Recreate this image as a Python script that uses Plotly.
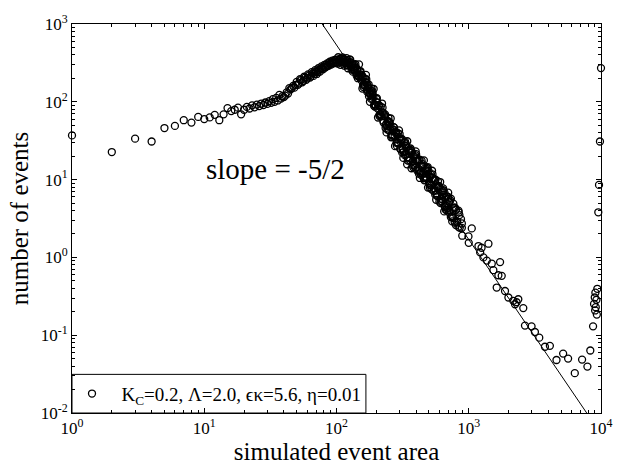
import plotly.graph_objects as go

# ---- data (simulated event area vs number of events) ----
area_low = [1, 2, 3, 4, 5, 6, 7, 8, 9, 10, 11, 12, 13, 14, 15, 16, 17, 18, 19, 20]
count_low = [37, 22.6, 33.6, 30.9, 46, 49, 58, 54, 64, 60, 63, 68, 58, 69, 83, 76, 79, 84, 69, 79]

area_rise = [21, 22, 23, 24, 25, 26, 27, 28, 29, 30, 31, 32, 33, 34, 35, 36, 37, 38, 39,
             40, 41, 42, 43, 44, 45, 46, 47, 48, 49, 50, 52, 54, 56, 58, 60, 62, 64, 66, 68, 70,
             72, 74, 76, 78, 80, 82, 84, 86, 88, 90, 92, 94, 96, 98]
count_rise = [86, 82, 90, 85, 92, 88, 95, 91, 98, 94, 102, 97, 108, 100, 112, 104, 123, 110, 118,
              115, 120, 132, 128, 150, 145, 150, 160, 152, 165, 180, 172, 190, 185, 205, 200, 218, 212, 232, 228, 245,
              240, 258, 264, 270, 282, 276, 298, 292, 315, 305, 320, 315, 330, 322]

area_rise2 = [51, 53, 55, 57, 59, 61, 63, 65, 67, 69, 71, 73, 75, 77, 79, 81, 83, 85, 87, 89,
              91, 93, 95, 97, 99]
count_rise2 = [165, 195, 178, 210, 192, 225, 205, 240, 215, 255, 228, 270, 245, 285, 262, 298,
               280, 312, 290, 328, 300, 338, 312, 345, 318]

area_peak = [100, 102, 104, 106, 108, 110, 112, 114, 116, 118, 120, 123, 126, 129, 132, 135, 138,
             141, 144, 147, 150, 154, 158, 162, 166, 170, 174, 178, 182, 186, 190, 195, 200, 205,
             210, 215, 220, 226, 232, 238, 244, 250, 256, 262, 268, 275, 282, 289, 296, 303, 310,
             318, 326, 334, 342, 350, 359, 368, 377, 386, 395, 405, 415, 425, 435, 445, 456, 467,
             478, 489, 500, 512, 524, 536, 548, 561, 574, 587, 600, 614, 628, 642, 656, 671, 686,
             701, 717, 733, 749, 766, 783, 800, 818, 836, 855, 874, 893]
count_peak = [347, 310, 342, 320, 360, 330, 351, 318, 348, 319, 330, 294, 324, 282, 303, 267, 274,
              236, 258, 218, 223, 190, 210, 171, 179, 143, 153, 135, 140, 110, 115, 92, 99, 82,
              90, 70, 73, 57, 65, 52, 57, 43, 48, 37, 44, 36, 41, 30, 33, 25, 32,
              25, 30, 21, 15.7, 23.6, 17.8, 23.3, 17.3, 19.8, 14.3, 17.2, 13.9, 18, 12.4, 14.6, 10.5, 13.9,
              10.8, 14.5, 9.2, 10.9, 7.5, 10.5, 7.7, 10.0, 6.4, 8.0, 5.2, 7.4, 5.6, 7.3, 4.6, 5.9, 4.0,
              5.7, 4.0, 5.7, 3.3, 4.3, 2.8, 4.1, 2.9, 4.0, 2.4, 3.1, 1.9]

area_band = [101, 105, 109, 113, 117, 121, 125, 131, 137, 143, 149, 156, 164, 172, 180, 188, 198,
             208, 218, 229, 241, 253, 265, 279, 293, 307, 322, 338, 355, 372, 390, 410, 430, 451,
             473, 496, 520, 545, 571, 598, 626, 655, 685, 716, 748, 781, 815, 850, 887]
count_band = [324, 354, 325, 343, 315, 344, 300, 294, 253, 262, 207, 217, 161, 162, 127, 125, 89,
              90, 65, 69, 49, 53, 37, 40, 29.5, 33, 22.5, 26, 19, 22.3, 15.1, 17.5, 12.1, 14.9,
              10.5, 12.9, 8.4, 9.9, 6.4, 8.0, 5.3, 6.8, 4.3, 5.2, 3.4, 4.4, 2.8, 3.5, 2.4]

area_wide = [103, 107, 111, 115, 119, 122, 127, 133, 139, 145, 152, 160, 168, 176, 184, 192, 202,
             212, 223, 235, 247, 259, 272, 286, 300, 314, 330, 346, 363, 381, 400, 420, 440, 462,
             484, 508, 532, 558, 585, 612, 640, 670, 700, 732, 765, 800, 840]
count_wide = [374, 299, 371, 291, 364, 270, 349, 244, 304, 201, 247, 155, 195, 118, 148, 89, 111,
              65, 84, 46, 62, 35, 47, 27.3, 38.5, 22.2, 30.8, 17.5, 25.1, 14.4, 21.2, 11.9, 17.5, 9.8,
              14.1, 7.9, 11.7, 6.4, 9.5, 5.0, 7.7, 4.1, 6.0, 3.3, 4.9, 2.6, 3.8]

area_core = [124, 128, 134, 140, 146, 153, 161, 169, 177, 185, 194, 203, 213, 224, 236, 248, 260,
             273, 287, 301, 316, 332, 348, 365, 383, 402, 422, 443, 465, 487, 510, 534, 560, 587,
             615, 645, 676, 708]
count_core = [313, 321, 258, 277, 214, 224, 166, 175, 128, 132, 93.5, 98, 69, 73, 50, 55, 38.4,
              43, 30.3, 34, 24, 27.2, 19.4, 22.2, 16, 18.3, 13.2, 15.1, 10.9, 12.4, 8.9, 10.1, 7.2, 8.0,
              5.7, 6.4, 4.6, 5.2]

area_fill = [119, 126, 130, 136, 142, 151, 159, 165, 171, 175, 183, 187, 196, 200, 211, 216, 227,
             233, 243, 251, 263, 270, 284, 291, 305, 312, 328, 336, 353, 361, 378, 392, 408, 418,
             438, 448, 470, 482, 505, 518, 542, 555, 580, 595, 620, 635, 662, 680, 710, 725, 760, 790]
count_fill = [296, 347, 260, 301, 217, 240, 165, 196, 134, 167, 109, 136, 86.5, 109, 67.3, 86.7, 54,
              69, 43.9, 55, 35.6, 47.2, 29.7, 39.5, 24.5, 33.4, 20.7, 28.4, 17.5, 24.2, 15.3, 20.6, 13.1, 18.1,
              11.4, 15.8, 9.9, 13.6, 8.6, 11.6, 7.2, 9.9, 6.1, 8.3, 5.2, 7.1, 4.4, 6.1, 3.8, 5.4, 3.2, 4.3]

area_outer = [148, 157, 167, 179, 191, 206, 221, 239, 257, 277, 297, 320, 343, 369, 397, 427, 458,
              492, 528, 567, 608, 652, 699, 750]
count_outer = [303, 148, 222, 100, 146, 62.8, 95, 40.4, 61, 26.9, 43, 19, 31.1, 14, 23, 10.5, 17.7,
               7.9, 13, 5.5, 9.3, 3.9, 6.8, 2.9]

area_tail = [837, 887, 995, 1054, 1000, 1184, 1250, 1409, 1220, 1291, 1370, 1493, 1725, 1535,
             1675, 1775, 1627, 1880, 1995, 2173, 2300, 2370, 2240, 2584, 2662, 2985, 3165, 3413,
             3767, 4106, 4607, 5173, 5640, 6336, 7194, 7893, 8300]
count_tail = [2.48, 2.73, 1.86, 2.36, 1.54, 1.40, 1.33, 1.50, 1.16, 1.0, 0.91, 0.83, 0.87, 0.685,
              0.59, 0.58, 0.41, 0.37, 0.305, 0.277, 0.265, 0.29, 0.25, 0.223, 0.133, 0.13, 0.11, 0.093,
              0.071, 0.073, 0.048, 0.058, 0.05, 0.0325, 0.0486, 0.0395, 0.0636]

area_edge = [10000, 9820, 9660, 9540, 9380, 9070, 8970, 9240, 8860, 9130, 9030, 9300, 8710]
count_edge = [271, 30.9, 8.55, 3.8, 0.395, 0.352, 0.305, 0.285, 0.252, 0.229, 0.208, 0.184, 0.13]

# reference power-law line, slope -5/2
slope = -2.5
log_intercept = 7.73
line_x = [60, 10000]

x_tickvals = [1, 10, 100, 1000, 10000]
x_ticktext = ["10<sup>0</sup>", "10<sup>1</sup>", "10<sup>2</sup>", "10<sup>3</sup>", "10<sup>4</sup>"]
y_tickvals = [0.01, 0.1, 1, 10, 100, 1000]
y_ticktext = ["10<sup>-2</sup>", "10<sup>-1</sup>", "10<sup>0</sup>", "10<sup>1</sup>",
              "10<sup>2</sup>", "10<sup>3</sup>"]

area = (area_low + area_rise + area_rise2 + area_peak + area_band + area_wide + area_core
        + area_fill + area_outer + area_tail + area_edge)
count = (count_low + count_rise + count_rise2 + count_peak + count_band + count_wide + count_core
         + count_fill + count_outer + count_tail + count_edge)

SERIF = "Liberation Serif"


def minor_vals(lo, hi):
    vals = []
    for e in range(lo, hi):
        for m in range(2, 10):
            vals.append(m * 10 ** e)
    return vals


fig = go.Figure()
fig.add_trace(go.Scatter(
    x=line_x, y=[10 ** log_intercept * v ** slope for v in line_x],
    mode="lines", line=dict(color="black", width=1), showlegend=False, hoverinfo="skip"))
fig.add_trace(go.Scatter(
    x=area, y=count, mode="markers", cliponaxis=False,
    marker=dict(symbol="circle-open", size=7, color="black", line=dict(width=1.3, color="black")),
    name="\u00a0\u00a0K<sub>C</sub>=0.2, Λ=2.0, ϵκ=5.6, η=0.01"))

axis_common = dict(
    type="log", showline=True, linecolor="black", linewidth=1, mirror="allticks",
    ticks="inside", ticklen=5, tickcolor="black", showgrid=False, zeroline=False,
    tickmode="array", tickfont=dict(family=SERIF, size=17, color="black"),
)

fig.update_xaxes(range=[0, 4], tickvals=x_tickvals, ticktext=x_ticktext,
                 minor=dict(ticks="inside", ticklen=3, tickcolor="black", showgrid=False,
                            tickmode="array", tickvals=minor_vals(0, 4)),
                 title=dict(text="simulated event area",
                            font=dict(family=SERIF, size=25, color="black"), standoff=4),
                 **axis_common)
fig.update_yaxes(range=[-2, 3], tickvals=y_tickvals, ticktext=y_ticktext,
                 minor=dict(ticks="inside", ticklen=3, tickcolor="black", showgrid=False,
                            tickmode="array", tickvals=minor_vals(-2, 3)),
                 title=dict(text="number of events",
                            font=dict(family=SERIF, size=25, color="black"), standoff=4),
                 **axis_common)

fig.add_annotation(x=1.54, y=1.14, xref="x", yref="y", text="slope = -5/2", showarrow=False,
                   font=dict(family=SERIF, size=29, color="black"))

# legend frame
fig.add_shape(type="rect", xref="paper", yref="paper", x0=0, x1=0.5556, y0=0, y1=0.0993,
              line=dict(color="black", width=1), fillcolor="white", layer="below")

fig.update_layout(
    width=625, height=472, margin=dict(l=72, r=22, t=15, b=54),
    paper_bgcolor="white", plot_bgcolor="white",
    font=dict(family=SERIF, color="black"),
    legend=dict(x=0, y=0.0496, xanchor="left", yanchor="middle", bgcolor="rgba(0,0,0,0)",
                borderwidth=0, itemwidth=30,
                font=dict(family=SERIF, size=19, color="black")),
)

fig.write_html("out.html")
